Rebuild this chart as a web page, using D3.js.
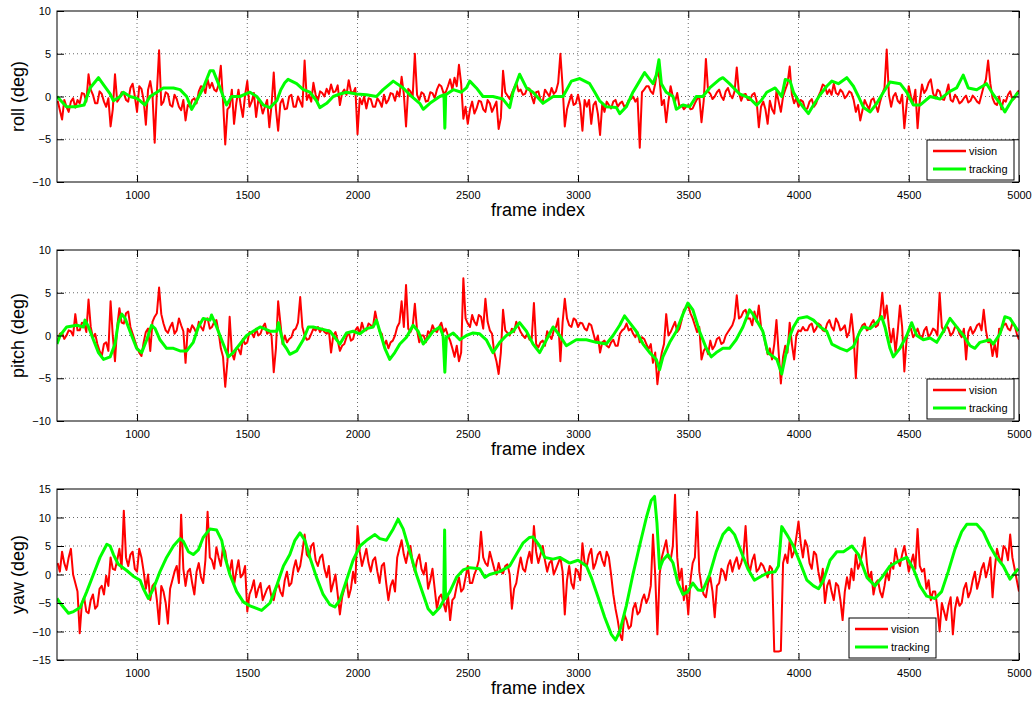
<!DOCTYPE html>
<html>
<head>
<meta charset="utf-8">
<script src="https://cdn.jsdelivr.net/npm/d3@7"></script>
<style>
  body { margin: 0; background: #fff; }
  svg { display: block; font-family: "Liberation Sans", Arial, Helvetica, sans-serif; }
</style>
</head>
<body>
<div id="chart"></div>
<script>
// ---- data ----
// vision samples: one value every 10 frames, starting at frame 640 (10 values per row = 100 frames)
const frameStart = 640;
const frameStep = 10;
const frameDomain = [637, 5000];
const xTicks = [1000, 1500, 2000, 2500, 3000, 3500, 4000, 4500, 5000];
const angleTicks = [-10, -5, 0, 5, 10];
const yawTicks = [-15, -10, -5, 0, 5, 10, 15];
const seriesNames = ["vision", "tracking"];
const axisNames = ["roll (deg)", "pitch (deg)", "yaw (deg)"];

const rollVision = [
  -0.5, -1.6, -2.7, -0.4, -1.2, -1.8, -0.6, -0.2, -1.3, -0.4,   // 640
  -0.8, 0.4, 0.3, -0.6, 2.6, 0.8, 0.2, -0.8, -0.8, 0.6,         // 740
  0.3, -0.6, -1.2, -0.2, -3.5, -1.5, 2.6, -0.6, -0.2, 0.5,      // 840
  0.4, -0.4, -0.6, 1.0, 1.5, 0.0, -1.8, 1.2, 0.9, -0.4,         // 940
  -3.3, 0.8, 1.8, 0.2, -5.4, 0.5, 5.4, -1.0, -0.6, 0.5,         // 1040
  0.3, -1.0, -1.2, 0.2, -0.3, -1.2, -1.6, -0.4, -2.8, -1.0,     // 1140
  -1.2, -0.4, -0.2, -0.8, 0.6, 1.2, 1.1, 0.4, 2.0, 1.0,         // 1240
  1.6, 0.8, 0.6, 1.4, 3.6, -0.5, -5.6, -1.5, -1.2, 0.8,         // 1340
  -3.2, -0.8, 0.8, -1.0, -2.4, 0.2, 1.8, -1.2, -0.6, 0.4,       // 1440
  -2.4, -0.4, -0.8, -2.0, -1.2, -0.4, -3.6, -1.0, 2.8, -1.5,    // 1540
  -4.0, -0.8, -0.3, -1.5, -1.4, 0.0, 0.2, -1.2, -1.2, 0.0,      // 1640
  -0.6, -1.2, 4.2, -0.4, 0.2, -0.6, 1.6, 0.2, -0.5, 0.6,        // 1740
  0.4, 0.0, 0.9, 0.3, 1.4, 0.5, 0.6, 1.3, -1.0, 0.4,            // 1840
  0.8, 0.2, 1.9, 0.6, 0.4, 1.0, -4.4, -0.2, -0.9, 0.0,          // 1940
  -1.4, -0.2, -0.3, -1.2, -1.2, -0.2, -0.6, -1.2, 0.2, -0.8,    // 2040
  -0.4, 0.4, 0.3, -0.5, 0.6, 0.0, 2.3, 0.3, -3.5, 0.9,          // 2140
  0.6, 0.0, 5.0, 0.2, -0.4, 0.5, 0.3, -0.6, -0.5, 0.5,          // 2240
  0.4, -0.2, 0.8, 1.4, 1.2, 0.4, 0.5, 1.2, 2.0, 0.8,            // 2340
  2.2, 1.2, 3.7, 1.5, -2.6, -1.2, -3.2, -1.5, -0.6, -2.0,       // 2440
  -1.4, -0.5, -0.6, -1.5, -1.8, -0.4, -0.8, -1.8, -1.2, -0.6,   // 2540
  -3.8, -2.5, 3.0, 0.5, 0.1, -0.3, 0.4, 1.0, 1.6, 0.6,          // 2640
  0.8, 0.2, 0.3, 1.0, 0.9, 0.0, -0.8, 0.5, 0.6, -0.4,           // 2740
  -0.6, 0.8, 0.4, 0.0, 1.0, 0.3, 0.6, 1.6, 5.0, 1.2,            // 2840
  -3.5, -1.5, -0.6, 0.2, -1.0, -0.8, 0.2, -1.0, -4.0, -0.4,     // 2940
  -1.2, -0.4, -3.2, -1.0, -0.6, -2.0, -4.5, -0.8, -1.8, -0.6,   // 3040
  -1.0, -1.4, -0.6, -0.4, -1.2, -0.8, -0.6, -1.2, -1.0, -0.4,   // 3140
  -0.3, 0.0, -0.6, -0.2, -6.0, 0.5, 0.8, 1.2, 1.2, 0.6,         // 3240
  0.3, 1.5, 3.2, 2.0, -1.0, -0.4, -3.0, -0.6, 1.2, 0.0,         // 3340
  -0.6, 0.4, -1.2, -1.0, -1.5, -1.2, -1.0, -1.5, -1.4, -0.8,    // 3440
  -0.3, 0.0, -3.0, -0.5, 4.4, 0.6, 0.3, -0.3, 0.0, 0.5,         // 3540
  0.8, 0.0, -0.4, 0.6, 1.0, 0.2, -0.2, 0.6, 3.4, 0.4,           // 3640
  -0.5, 0.2, 0.3, -0.4, -0.4, 0.2, 0.4, -0.5, -3.6, -1.2,       // 3740
  -0.6, -1.5, -3.2, -0.5, -1.5, -2.0, 0.6, -0.6, -1.8, 0.0,     // 3840
  0.8, 1.5, 3.5, 0.2, -0.8, -0.2, -1.2, -0.4, -0.6, -1.5,       // 3940
  -1.4, -0.6, -0.3, -1.2, -0.8, 0.0, 0.6, 1.4, 1.2, 0.3,        // 4040
  0.8, 0.2, 1.5, 0.4, 0.2, 0.8, 0.5, -0.2, 0.1, 0.6,            // 4140
  0.4, -0.4, -1.8, -1.0, -2.8, -1.6, -0.4, -1.0, -1.5, -0.4,    // 4240
  -0.2, -1.0, -1.8, -0.6, 0.3, 1.0, 5.5, 0.2, -1.2, 0.0,        // 4340
  0.4, -0.5, -0.8, 0.2, -3.7, -1.0, 1.2, 0.0, -0.8, 0.8,        // 4440
  -3.7, -0.5, 1.4, 0.4, 0.8, 1.6, 2.0, 0.4, -0.2, 0.8,          // 4540
  0.6, -0.3, -0.4, 0.4, 1.4, -0.4, -0.6, 0.2, -0.2, -0.8,       // 4640
  -0.6, -0.2, 0.1, -0.7, -0.5, 0.1, -0.2, -0.6, -0.8, 0.2,      // 4740
  1.2, 2.0, 4.2, 1.5, -0.2, -0.8, -1.0, 0.0, -1.5, -0.4,        // 4840
  -0.6, 0.2, 0.6, -0.4, -0.2, 0.4, 0.7                          // 4940
];

const pitchVision = [
  -0.6, 0.2, 0.3, -0.4, 0.0, 0.6, 0.5, 0.0, 2.5, 0.6,           // 640
  0.6, 1.5, 1.4, 0.4, 4.2, 1.0, -0.3, 0.2, -1.0, -1.8,          // 740
  -2.4, -1.0, -0.8, -1.8, 4.0, 0.0, -3.0, 1.0, 3.2, 1.5,        // 840
  1.4, 2.6, 2.8, 1.0, 0.2, -0.6, -1.4, -2.0, -2.4, -0.8,        // 940
  0.4, 0.8, -1.8, 1.6, 2.2, 2.6, 5.6, 2.5, 1.4, 0.6,            // 1040
  0.3, 1.0, 1.5, 0.2, 0.6, 2.0, 1.2, 0.5, -3.2, 0.8,            // 1140
  0.4, 1.2, 0.8, 0.2, 1.6, 1.0, 0.6, 1.8, 2.0, 0.8,             // 1240
  1.0, 1.6, 1.8, 0.4, -1.5, -2.5, -6.0, -3.0, 2.2, -2.0,        // 1340
  -2.8, -1.5, -1.6, -2.2, -0.4, -1.0, -0.8, 0.4, 0.3, -0.2,     // 1440
  0.8, 0.0, 0.2, 1.0, 1.4, 0.2, 0.5, 0.0, -4.3, -1.5,           // 1540
  4.0, 1.5, -1.0, 0.0, -0.8, -0.4, -0.2, 0.6, 0.8, 1.5,         // 1640
  4.5, 1.0, 0.0, -0.5, -0.4, 0.2, 0.8, 0.6, 1.0, 0.4,           // 1740
  0.8, 0.4, 0.2, 0.6, -2.0, 0.0, 0.4, -0.6, -1.8, -1.2,         // 1840
  -1.0, -0.2, 0.4, -0.6, -0.4, 0.6, 1.0, 0.2, 1.5, 0.6,         // 1940
  0.6, 1.4, 1.2, 1.0, 2.8, 1.5, 0.5, 0.2, -1.2, -0.6,           // 2040
  -1.5, -0.8, -0.6, 0.0, 1.0, 1.5, 4.0, 1.0, 5.9, 0.8,          // 2140
  0.4, 1.0, 3.7, 0.6, -0.8, 0.0, 0.0, -0.8, 0.5, 0.2,           // 2240
  1.2, 0.6, 0.4, 1.0, 1.5, 0.4, 0.8, 0.0, -0.6, -1.5,           // 2340
  -2.5, -1.2, -3.0, -2.0, 6.7, 2.0, 1.4, 1.0, 2.4, 1.6,         // 2440
  1.2, 2.4, 2.2, 0.8, 4.3, 1.6, 0.6, 0.2, -2.0, -3.0,           // 2540
  -4.5, -2.0, 3.0, 0.6, 0.3, 0.0, 0.8, 0.4, 1.6, 1.0,           // 2640
  0.4, 0.0, -0.3, 0.2, -0.5, -0.4, 3.8, -1.0, -1.4, -0.8,       // 2740
  -0.6, -1.2, 0.5, 0.0, -0.4, 0.6, 1.0, 2.0, -3.0, 1.5,         // 2840
  4.3, 2.0, 1.2, 1.0, 2.0, 1.8, 1.0, 1.5, 1.4, 0.8,             // 2940
  0.6, 1.4, 1.2, 0.2, -0.8, 0.0, -2.0, -0.8, -0.6, -1.2,        // 3040
  -1.4, -0.8, -0.5, -1.2, -1.2, 0.2, 0.6, 0.8, 1.4, 0.6,        // 3140
  0.8, 0.2, -0.2, 0.4, -0.8, -0.2, -0.4, -1.0, -1.6, -1.0,      // 3240
  -3.2, -2.0, -5.7, -3.5, -2.0, -1.0, 2.5, 0.0, 0.4, 1.0,       // 3340
  1.6, 0.4, 0.8, 1.8, 3.0, 3.2, 3.5, 2.6, 2.0, 1.2,             // 3440
  0.4, 1.0, -2.8, -1.8, -1.4, -2.2, -0.6, -1.6, -1.2, -0.4,     // 3540
  -0.2, -1.0, -0.8, 0.0, 0.4, 0.8, 1.2, 2.0, 4.7, 2.0,          // 3640
  2.2, 2.8, 3.0, 2.0, 2.0, 1.2, 2.8, 1.6, 3.5, 1.0,             // 3740
  0.4, -1.0, -2.2, -1.5, -2.8, -1.0, 1.8, -2.0, -5.6, -2.5,     // 3840
  -1.2, -2.0, 1.5, -1.0, -2.8, 0.0, 0.6, 0.5, 1.0, 0.6,         // 3940
  0.6, 1.2, 1.4, 0.4, 0.8, 1.4, 1.2, 0.6, 0.5, 1.4,             // 4040
  1.8, 1.0, 0.6, 2.0, 1.5, 0.6, 0.8, 1.2, -0.2, 0.4,            // 4140
  2.5, 0.0, -5.0, 0.0, 0.6, 1.2, 1.4, 0.6, 0.8, 1.4,            // 4240
  1.8, 1.0, 1.2, 2.4, 5.0, 2.0, 3.5, 1.0, -0.8, 0.8,            // 4340
  -2.0, 0.5, 3.5, 1.0, -4.2, -0.5, 0.6, 0.8, -0.2, 0.2,         // 4440
  0.8, 0.0, -0.4, 0.6, 1.0, -0.2, 0.2, 0.8, 0.6, 0.0,           // 4540
  5.0, 1.0, 0.4, 1.2, 0.8, 0.0, 0.3, 1.0, 1.0, 0.2,             // 4640
  -0.2, 0.8, -2.8, 0.4, 1.0, 0.2, 0.6, 1.2, 1.4, 0.6,           // 4740
  3.0, 0.6, -0.8, -0.6, -2.4, -1.0, -2.5, 0.8, 0.6, 1.2,        // 4840
  1.4, 0.8, 0.6, 1.4, 1.2, 0.2, -0.5                            // 4940
];

const yawVision = [
  2.0, 0.5, 4.0, 2.0, 0.8, 3.0, 4.5, 0.0, -1.5, -3.0,           // 640
  -10.3, -5.0, -4.0, -6.5, -6.8, -4.5, -3.5, -6.0, -5.5, -2.5,  // 740
  -2.0, -3.5, -0.2, -2.0, 3.0, 1.0, 0.8, 2.5, 4.5, 1.0,         // 840
  11.2, 3.0, 1.5, 3.5, 4.0, 1.0, 0.5, 4.5, 3.0, 0.5,            // 940
  -2.5, 0.0, -4.5, -2.0, -1.5, -4.5, -8.7, -2.0, -3.0, -5.0,    // 1040
  -8.6, -2.5, -1.0, 0.5, 1.5, -1.5, 10.5, 1.0, -2.0, 0.5,       // 1140
  1.0, -1.5, -3.5, 0.5, 2.0, -0.5, -1.5, 2.5, 11.0, 3.0,        // 1240
  2.5, 1.0, 4.8, 3.0, 1.5, 5.0, 4.0, 1.5, 0.5, 2.5,             // 1340
  -1.8, 0.5, 2.5, -0.5, 0.0, 1.5, -6.5, -3.5, -2.5, -1.0,       // 1440
  -4.0, -2.5, -1.5, -4.5, -3.5, -2.5, -2.0, -4.0, -4.5, -2.5,   // 1540
  -1.5, -3.0, -3.8, -1.0, 0.5, -2.0, -1.5, 1.0, 2.5, 0.5,       // 1640
  1.5, 4.0, 7.0, 3.5, 3.0, 5.0, 5.5, 2.5, 1.5, 3.0,             // 1740
  3.5, 1.0, -0.5, 1.5, -3.0, -1.5, 0.0, -3.5, -7.0, -4.0,       // 1840
  -2.5, -1.0, -4.0, -2.5, 0.5, -1.5, 8.5, 4.0, 1.5, 3.0,        // 1940
  4.5, 2.0, 0.5, 2.5, 3.0, 0.5, -1.5, 1.5, 2.0, -1.5,           // 2040
  -4.5, -2.0, -1.0, -3.0, 3.0, 4.5, 6.0, 3.5, 2.0, 4.0,         // 2140
  5.0, 2.0, 0.5, 2.5, 3.5, 1.0, 0.0, 2.0, -2.5, -1.0,           // 2240
  1.0, -2.5, -6.0, -4.0, -3.5, -5.0, -6.5, -3.5, -8.0, -4.5,    // 2340
  -4.0, -2.0, -0.5, -3.0, -2.5, -0.5, 1.5, -1.5, -1.5, 0.0,     // 2440
  1.0, 2.5, 7.5, 3.0, 2.0, 1.5, 4.0, 2.5, 1.0, 0.0,             // 2540
  2.0, 0.5, 0.2, 1.5, 1.8, 0.0, -6.0, -2.5, -1.5, 1.0,          // 2640
  3.0, 1.0, 0.5, 2.5, 4.0, 2.0, 8.5, 4.0, 2.0, 3.5,             // 2740
  5.0, 2.5, 0.5, 2.0, 2.5, 0.0, 1.0, 2.0, 3.0, 0.5,             // 2840
  -7.0, -1.0, 1.5, -1.5, -2.5, 1.0, 0.5, -1.0, 5.5, 2.0,        // 2940
  1.5, 3.5, 4.5, 1.0, 2.0, 3.5, 4.0, 2.5, 1.5, 4.0,             // 3040
  3.0, 0.0, -3.5, -6.0, -8.0, -10.5, -11.5, -7.0, -8.0, -9.5,   // 3140
  -9.0, -6.0, -5.0, -7.0, -6.5, -4.5, -3.5, -5.0, -4.0, -2.0,   // 3240
  7.0, 0.0, -10.5, 0.0, 3.0, 4.5, 6.0, 3.0, 2.5, 5.0,           // 3340
  14.0, 3.0, -1.0, 1.0, -4.5, -2.0, -7.0, -1.0, 2.0, 3.0,       // 3440
  11.0, 0.5, -2.0, -3.5, -4.0, -1.5, -0.5, -3.0, -7.5, -2.0,    // 3540
  -1.5, 1.0, 0.5, -1.0, 1.5, 2.5, 0.5, 2.0, 3.0, 1.0,           // 3640
  2.0, 3.5, 8.5, 2.0, 0.5, 2.5, 3.5, 0.5, 1.0, 2.0,             // 3740
  1.5, 0.5, -0.5, 1.5, 1.0, -13.5, -13.5, -13.5, -13.4, 2.0,    // 3840
  3.5, 2.0, 6.0, 3.0, 4.0, 6.5, 9.3, 5.5, 3.0, 6.0,             // 3940
  5.0, 2.0, 1.0, 4.0, 3.5, 0.5, -1.5, 1.0, -5.0, -2.0,          // 4040
  -1.0, -3.0, -4.5, -1.5, -2.0, -4.5, -8.0, -3.0, -0.5, -2.5,   // 4140
  1.0, -1.0, 3.5, 1.0, 2.0, 4.0, 6.5, 2.0, -1.0, 0.5,           // 4240
  -3.5, -1.5, -1.0, -3.0, -4.0, -2.0, 0.5, -1.0, 2.0, 1.0,      // 4340
  4.5, 2.5, 1.5, 3.5, 5.0, 3.0, 0.5, 2.0, 3.5, 1.0,             // 4440
  8.0, 1.5, 0.5, 1.0, -2.5, -1.0, -4.5, -3.0, -3.0, -6.0,       // 4540
  -10.0, -5.0, -6.5, -8.0, -5.5, -4.0, -10.5, -6.0, -4.0, -5.5, // 4640
  -5.0, -2.5, -1.5, -4.0, -3.0, -1.0, 0.5, -2.5, -1.0, 1.0,     // 4740
  2.0, -0.5, 1.0, 3.0, -4.0, 1.0, 4.5, 3.0, 2.0, 5.0,           // 4840
  4.5, 2.5, 7.0, 3.0, 1.0, -1.0, -3.0                           // 4940
];

// tracking: [frame, degrees]
const rollTracking = [
  [637, 0], [680, -1.2], [720, -1.2], [760, -1.0], [787, 1.0], [825, 2.2], [850, 1.3], [878, 0.3],
  [893, -0.5], [923, 0], [938, 0.5], [968, 0], [998, -0.2], [1014, -0.5], [1036, -1.0], [1059, 0],
  [1090, 0.5], [1119, 1.0], [1165, 1.0], [1195, 0.8], [1225, 0], [1248, -1.5], [1270, -0.5], [1300, 1.0],
  [1331, 3.0], [1346, 3.0], [1369, 1.5], [1391, 0], [1406, -1.0], [1429, 0], [1467, 0], [1512, 0.5],
  [1543, 0], [1573, -1.0], [1603, -1.3], [1634, -0.5], [1652, 0.8], [1670, 1.6], [1685, 2.0], [1724, 1.5],
  [1754, 0.8], [1784, 0.5], [1814, -0.5], [1829, -1.3], [1860, -0.8], [1890, 0], [1920, 0.3], [1950, 0.5],
  [1995, 0.3], [2041, 0.2], [2086, 0], [2116, 0.8], [2162, 1.8], [2207, 1.0], [2237, 0.2], [2282, -0.8],
  [2298, -1.5], [2328, -0.8], [2373, 0], [2392, 0.2], [2396, -3.7], [2400, 0.2], [2434, 0.8], [2471, 0.5],
  [2494, 1.0], [2509, 1.8], [2539, 1.0], [2569, 0], [2614, 0], [2659, -0.3], [2690, -1.3], [2705, 0.5],
  [2735, 2.6], [2766, 1.0], [2796, 0.5], [2841, -0.8], [2887, 0], [2932, 0], [2970, 1.8], [3008, 2.1],
  [3053, 1.5], [3076, 0.5], [3098, -0.5], [3128, -1.2], [3174, -1.3], [3189, -2.0], [3219, -1.2], [3249, 0.5],
  [3279, 1.8], [3302, 2.8], [3325, 2.0], [3340, 1.5], [3355, 2.5], [3367, 4.3], [3378, 1.5], [3400, 0.5],
  [3431, 0], [3446, -1.5], [3476, -1.0], [3506, -1.2], [3536, 0], [3566, 0], [3597, 1.0], [3642, 2.0],
  [3657, 2.2], [3687, 1.5], [3733, 0.3], [3778, -0.2], [3810, -1.0], [3830, -0.5], [3856, 0.5], [3894, 1.0],
  [3924, 0.0], [3940, 2.0], [3962, 1.8], [3977, 0.5], [4000, -0.5], [4023, -1.3], [4045, -2.0], [4068, -1.0],
  [4098, 0.2], [4128, 1.2], [4151, 1.8], [4181, 1.5], [4219, 2.2], [4249, 1.2], [4272, 0], [4295, -1.3],
  [4325, -1.8], [4355, -0.8], [4385, 0.5], [4415, 1.7], [4461, 1.5], [4491, 0.5], [4521, -1.0], [4551, -1.0],
  [4597, 0], [4642, -0.3], [4687, 0.6], [4717, 1.0], [4747, 2.5], [4770, 1.0], [4808, 0.8], [4853, 1.5],
  [4884, 0.2], [4914, -0.8], [4936, -1.8], [4966, -0.5], [4997, 0.5]
];

const pitchTracking = [
  [637, -1.0], [651, 0], [681, 1.0], [727, 1.2], [757, 1.0], [764, 1.8], [780, 1.0], [802, -0.5],
  [825, -2.0], [848, -2.8], [878, -2.5], [900, -1.0], [915, 1.5], [931, 2.5], [946, 2.0], [968, 0.5],
  [998, -1.5], [1021, -2.0], [1044, -0.5], [1066, 1.2], [1082, 0.8], [1104, -0.5], [1134, -1.5], [1165, -1.5],
  [1195, -1.8], [1225, -1.8], [1255, -0.8], [1278, 1.0], [1300, 2.0], [1331, 1.8], [1338, 2.4], [1361, 1.0],
  [1391, -1.0], [1414, -2.5], [1436, -2.0], [1467, -1.0], [1497, 0], [1527, 0.5], [1558, 1.0], [1603, 0.5],
  [1634, 0.5], [1641, 1.5], [1664, -1.0], [1680, -1.6], [1693, -2.2], [1724, -1.8], [1754, -0.5], [1777, 1.0],
  [1799, 1.0], [1829, 0.8], [1875, 0.5], [1905, -0.5], [1920, -1.0], [1950, 0.3], [1980, 0.5], [2011, 0.2],
  [2041, 0.8], [2071, 1.0], [2086, 1.8], [2101, 0.5], [2124, -1.5], [2146, -2.8], [2169, -2.0], [2192, -1.0],
  [2222, -0.2], [2252, 1.2], [2275, 0.5], [2298, -1.0], [2320, -0.3], [2343, 0.5], [2373, 1.0], [2388, 0],
  [2396, -4.3], [2403, -0.2], [2434, 0.3], [2464, -0.5], [2494, 0], [2524, 0.3], [2554, 0.2], [2584, -0.5],
  [2614, -2.0], [2645, -0.8], [2675, 0], [2705, 0.5], [2735, 1.5], [2766, 0.5], [2796, -1.0], [2826, -2.0],
  [2857, -0.5], [2887, 1.0], [2917, 0], [2947, -1.2], [2992, -0.5], [3038, -0.5], [3083, -0.8], [3128, -1.0],
  [3159, 0], [3189, 1.2], [3211, 2.3], [3234, 1.5], [3264, 0.5], [3295, -1.0], [3325, -2.0], [3355, -2.8],
  [3370, -4.0], [3385, -2.5], [3416, -0.8], [3446, 0.5], [3476, 2.5], [3498, 3.8], [3521, 3.0], [3551, 0.5],
  [3582, -1.5], [3604, -2.5], [3627, -2.0], [3657, -1.5], [3687, -1.5], [3717, -0.5], [3748, 1.0], [3778, 3.0],
  [3793, 2.5], [3816, 1.5], [3838, 0.5], [3861, -2.0], [3902, -2.8], [3924, -4.5], [3940, -2.5], [3962, 0],
  [3977, 1.0], [4000, 2.0], [4038, 2.2], [4068, 1.8], [4098, 1.0], [4128, 0.5], [4151, -1.0], [4189, -1.5],
  [4219, -1.8], [4249, -1.3], [4279, 0.5], [4294, 1.0], [4325, 0.8], [4355, 1.5], [4377, 2.2], [4392, 1.0],
  [4415, -1.5], [4430, -2.5], [4460, -1.5], [4491, 0], [4513, 1.5], [4536, 0], [4566, -0.5], [4597, -0.3],
  [4627, -0.8], [4657, 0.5], [4687, 2.0], [4717, 1.0], [4748, 0], [4778, -1.2], [4800, -1.5], [4823, -0.8],
  [4868, -0.5], [4883, -1.0], [4914, 0.2], [4936, 2.2], [4959, 2.0], [4997, 0.5]
];

const yawTracking = [
  [637, -4.2], [651, -5.0], [689, -6.8], [712, -6.5], [742, -5.8], [772, -3.0], [802, 0], [832, 3.0],
  [863, 5.3], [878, 5.0], [893, 3.5], [915, 1.8], [953, 0.7], [983, -0.3], [1014, -1.0], [1029, -2.5],
  [1051, -4.2], [1074, -2.5], [1104, 0.5], [1134, 3.0], [1165, 5.0], [1195, 6.3], [1210, 5.8], [1233, 4.0],
  [1255, 3.5], [1278, 4.3], [1300, 6.5], [1331, 8.0], [1361, 7.8], [1384, 6.0], [1399, 3.0], [1421, 0],
  [1452, -3.0], [1482, -4.8], [1512, -5.5], [1565, -6.3], [1603, -5.0], [1633, -2.0], [1648, -0.3], [1664, 1.5],
  [1693, 3.5], [1716, 6.0], [1739, 7.3], [1761, 6.0], [1784, 3.0], [1814, -0.5], [1844, -3.5], [1875, -5.3],
  [1897, -5.7], [1920, -4.5], [1950, -1.0], [1980, 2.5], [2011, 5.0], [2041, 6.0], [2079, 7.0], [2101, 6.3],
  [2131, 6.0], [2162, 8.0], [2184, 9.7], [2207, 8.0], [2237, 4.0], [2267, 0], [2298, -3.5], [2320, -6.0],
  [2343, -7.0], [2373, -5.8], [2391, -4.5], [2395, 7.8], [2399, -4.2], [2419, -3.0], [2449, -0.5], [2479, 0.8],
  [2509, 1.2], [2554, 1.0], [2577, -0.5], [2599, 0], [2645, 0.5], [2690, 1.5], [2720, 3.5], [2750, 5.5],
  [2780, 6.5], [2796, 6.6], [2826, 5.0], [2849, 3.0], [2887, 2.7], [2917, 3.0], [2962, 2.0], [3000, 2.5],
  [3038, 1.5], [3060, -0.5], [3091, -4.0], [3121, -7.5], [3151, -10.5], [3170, -11.5], [3189, -10.0], [3219, -5.5],
  [3249, 0], [3279, 5.0], [3310, 10.0], [3332, 13.0], [3347, 13.7], [3358, 9.0], [3370, 1.0], [3385, 2.5],
  [3408, 3.5], [3431, 2.0], [3453, -1.5], [3476, -3.5], [3498, -3.0], [3521, -1.5], [3544, -2.7], [3566, -2.8],
  [3597, 0], [3627, 4.0], [3657, 7.0], [3684, 8.2], [3710, 7.0], [3740, 4.0], [3770, 1.0], [3800, -1.0],
  [3831, -0.3], [3861, 0.3], [3894, 0.5], [3909, 1.5], [3924, 8.4], [3947, 7.0], [3977, 5.0], [4008, 2.0],
  [4038, -1.0], [4068, -2.0], [4091, -2.5], [4113, -1.0], [4143, 2.5], [4174, 4.0], [4204, 4.0], [4242, 5.0],
  [4272, 3.5], [4310, -0.5], [4347, -2.0], [4378, -0.5], [4415, 1.5], [4461, 2.5], [4491, 3.0], [4521, 1.0],
  [4551, -2.0], [4581, -3.8], [4619, -4.2], [4649, -3.0], [4679, 0.5], [4710, 4.5], [4740, 7.5], [4763, 8.8],
  [4808, 8.8], [4838, 7.5], [4868, 5.0], [4898, 3.0], [4929, 1.5], [4959, -0.8], [4997, 1.0]
];

// ---- layout ----
const width = 1034, height = 702;
const plotLeft = 57, plotRight = 1019, plotHeight = 171;
const panelTops = [11, 250, 489];
const visionColor = "#ff0000", trackingColor = "#00ff00";

const panels = [
  { label: axisNames[0], vision: rollVision, tracking: rollTracking, domain: [-10, 10], ticks: angleTicks, legendX: 927 },
  { label: axisNames[1], vision: pitchVision, tracking: pitchTracking, domain: [-10, 10], ticks: angleTicks, legendX: 927 },
  { label: axisNames[2], vision: yawVision, tracking: yawTracking, domain: [-15, 15], ticks: yawTicks, legendX: 849 }
];

const svg = d3.select("#chart").append("svg")
  .attr("width", width)
  .attr("height", height);

const x = d3.scaleLinear().domain(frameDomain).range([plotLeft, plotRight]);
const tickFmt = d3.format("d");

panels.forEach(function (p, k) {
  const top = panelTops[k];
  const bottom = top + plotHeight;
  const y = d3.scaleLinear().domain(p.domain).range([bottom, top]);
  const g = svg.append("g");

  g.append("rect")
    .attr("x", plotLeft).attr("y", top)
    .attr("width", plotRight - plotLeft).attr("height", plotHeight)
    .attr("fill", "#fff");

  // dotted grid
  g.selectAll(".vgrid")
    .data(xTicks.filter((t) => t > frameDomain[0] && t < frameDomain[1]))
    .enter().append("line")
    .attr("x1", (d) => x(d)).attr("x2", (d) => x(d))
    .attr("y1", top).attr("y2", bottom)
    .attr("stroke", "#444").attr("stroke-width", 0.8)
    .attr("stroke-dasharray", "1,3");
  g.selectAll(".hgrid")
    .data(p.ticks.slice(1, -1))
    .enter().append("line")
    .attr("x1", plotLeft).attr("x2", plotRight)
    .attr("y1", (d) => y(d)).attr("y2", (d) => y(d))
    .attr("stroke", "#444").attr("stroke-width", 0.8)
    .attr("stroke-dasharray", "1,3");

  // data lines
  const clipId = "clip" + k;
  g.append("clipPath").attr("id", clipId)
    .append("rect")
    .attr("x", plotLeft).attr("y", top)
    .attr("width", plotRight - plotLeft).attr("height", plotHeight);

  const line = d3.line()
    .x((d) => x(d[0]))
    .y((d) => y(d[1]));

  const visionPts = p.vision.map((v, i) => [frameStart + i * frameStep, v]);

  g.append("path")
    .datum(visionPts)
    .attr("clip-path", "url(#" + clipId + ")")
    .attr("d", line)
    .attr("fill", "none")
    .attr("stroke", visionColor)
    .attr("stroke-width", 2)
    .attr("stroke-linejoin", "round");

  g.append("path")
    .datum(p.tracking)
    .attr("clip-path", "url(#" + clipId + ")")
    .attr("d", line)
    .attr("fill", "none")
    .attr("stroke", trackingColor)
    .attr("stroke-width", 3)
    .attr("stroke-linejoin", "round");

  // axes with inward ticks
  const xAxis = d3.axisBottom(x).tickValues(xTicks).tickFormat(tickFmt)
    .tickSizeInner(-7).tickSizeOuter(0).tickPadding(9);
  const gx = g.append("g").attr("transform", "translate(0," + bottom + ")").call(xAxis);
  const gxTop = g.append("g").attr("transform", "translate(0," + top + ")")
    .call(d3.axisTop(x).tickValues(xTicks).tickSizeInner(-7).tickSizeOuter(0).tickFormat(""));
  const yAxis = d3.axisLeft(y).tickValues(p.ticks).tickFormat(tickFmt)
    .tickSizeInner(-7).tickSizeOuter(0).tickPadding(6);
  const gy = g.append("g").attr("transform", "translate(" + plotLeft + ",0)").call(yAxis);
  const gyRight = g.append("g").attr("transform", "translate(" + plotRight + ",0)")
    .call(d3.axisRight(y).tickValues(p.ticks).tickSizeInner(-7).tickSizeOuter(0).tickFormat(""));

  [gx, gxTop, gy, gyRight].forEach(function (a) {
    a.select(".domain").remove();
    a.selectAll(".tick line").attr("stroke", "#000");
    a.selectAll("text")
      .attr("fill", "#000")
      .style("font-size", "11px")
      .style("font-family", "'Liberation Sans', Arial, sans-serif");
  });

  g.append("rect")
    .attr("x", plotLeft).attr("y", top)
    .attr("width", plotRight - plotLeft).attr("height", plotHeight)
    .attr("fill", "none").attr("stroke", "#000").attr("stroke-width", 1);

  // axis titles
  g.append("text")
    .attr("x", (plotLeft + plotRight) / 2)
    .attr("y", bottom + 34)
    .attr("text-anchor", "middle")
    .style("font-size", "18px")
    .text("frame index");

  g.append("text")
    .attr("transform", "translate(24," + (top + plotHeight / 2) + ") rotate(-90)")
    .attr("text-anchor", "middle")
    .style("font-size", "18px")
    .text(p.label);

  // legend
  const lx = p.legendX, ly = bottom - 42;
  const legend = g.append("g").attr("transform", "translate(" + lx + "," + ly + ")");
  legend.append("rect")
    .attr("width", 87).attr("height", 40)
    .attr("fill", "#fff").attr("stroke", "#000").attr("stroke-width", 1);
  const items = [
    { name: seriesNames[0], color: visionColor, w: 2.5 },
    { name: seriesNames[1], color: trackingColor, w: 3 }
  ];
  items.forEach(function (it, j) {
    const yy = 11 + j * 18;
    legend.append("line")
      .attr("x1", 6).attr("x2", 39)
      .attr("y1", yy).attr("y2", yy)
      .attr("stroke", it.color).attr("stroke-width", it.w);
    legend.append("text")
      .attr("x", 42).attr("y", yy)
      .attr("dy", "0.35em")
      .style("font-size", "11px")
      .text(it.name);
  });
});
</script>
</body>
</html>
